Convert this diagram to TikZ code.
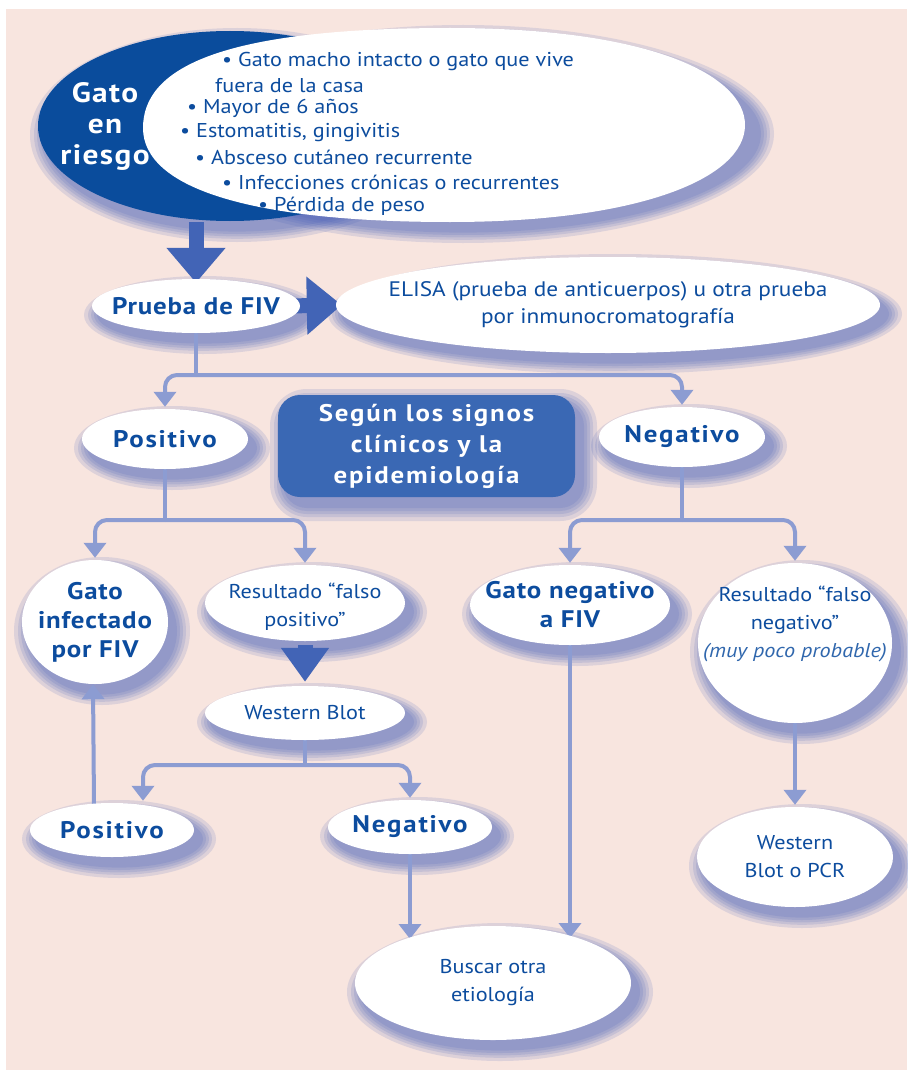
\documentclass[tikz,border=0pt]{standalone}
\usepackage{fontspec}
\setmainfont{PT Sans}
\newfontfamily\rfont{PT Sans}[FakeStretch=1.11]
\newfontfamily\bfont{PT Sans}[FakeStretch=1.12,LetterSpace=3.5]
\newfontfamily\bwfont{PT Sans}[FakeStretch=1.12,LetterSpace=7.5]
\newfontfamily\btfont{PT Sans}[FakeStretch=1.12,LetterSpace=5]
\usetikzlibrary{shapes.geometric,arrows.meta,calc}
\definecolor{pinkbg}{RGB}{248,229,223}
\definecolor{tblue}{RGB}{12,76,158}
\definecolor{darkc}{RGB}{10,76,156}
\definecolor{boxc}{RGB}{58,104,180}
\definecolor{connc}{RGB}{140,156,210}
\definecolor{thickc}{RGB}{66,100,182}
\definecolor{shadc}{RGB}{70,95,185}
\pgfdeclarelayer{bg}\pgfdeclarelayer{shad}\pgfdeclarelayer{lines}
\pgfsetlayers{bg,shad,lines,main}
\tikzset{
  every node/.style={inner sep=0pt},
  txt/.style={text=tblue, font=\rfont\fontsize{20}{28}\selectfont, align=center},
  btxt/.style={text=tblue, font=\bfont\bfseries\fontsize{24}{29}\selectfont, align=center},
  bwtxt/.style={text=tblue, font=\bwfont\bfseries\fontsize{24}{29}\selectfont, align=center},
  bullet/.style={text=tblue, font=\rfont\fontsize{20}{24}\selectfont, anchor=west},
  conn/.style={draw=connc, line width=4pt, rounded corners=12pt},
  arr/.style={-{Triangle[width=22pt,length=15pt]}},
  bigarr/.style={draw=thickc, line width=15pt, -{Triangle[#1]}},
  oval/.style={ellipse, fill=white},
}
% shadow under an ellipse: {cx}{cy}{rx}{ry}
\newcommand\ovalshadow[4]{%
  \begin{pgfonlayer}{shad}
    \foreach \k in {15,11,8,5,2}{%
      \fill[shadc, opacity=0.15] (#1+7,#2+9) ellipse [x radius={(#3+\k)*1pt}, y radius={(#4+\k*0.8)*1pt}];}
  \end{pgfonlayer}}
% [text options]{name}{cx}{cy}{rx}{ry}{text}
\newcommand\ovalnode[7][]{%
  \ovalshadow{#3}{#4}{#5}{#6}%
  \node[oval, minimum width={2pt*#5}, minimum height={2pt*#6}] (#2) at (#3,#4) {};
  \node[#1] (#2t) at (#3,#4) {#7};}
\begin{document}
\begin{tikzpicture}[x=1pt,y=-1pt]
\useasboundingbox (0,0) rectangle (907,1070);
\begin{pgfonlayer}{bg}
  \fill[white] (0,0) rectangle (907,1070);
  \fill[pinkbg] (6,9) rectangle (907,1070);
\end{pgfonlayer}

% top: risk crescent + bullets
\ovalshadow{230}{126}{192}{95}
\node[ellipse, fill=darkc, minimum width=384pt, minimum height=190pt] (riskbg) at (230,126) {};
\ovalshadow{456}{125}{296}{97}
\fill[white] (143,128) .. controls (143,70) and (215,28) .. (450,28)
  .. controls (650,28) and (745,75) .. (745,125)
  .. controls (745,178) and (640,222) .. (450,222)
  .. controls (250,222) and (143,188) .. (143,128) -- cycle;
\node[ellipse, minimum width=600pt, minimum height=194pt] (topW) at (445,125) {};
\node[text=white, font=\btfont\bfseries\fontsize{28}{31}\selectfont, align=center] (risk) at (105,126) {Gato\\en\\riesgo};
\node[bullet] (b1) at (222,62) {• Gato macho intacto o gato que vive};
\node[bullet] (b2) at (215,86) {fuera de la casa};
\node[bullet] (b3) at (187,108) {• Mayor de 6 años};
\node[bullet] (b4) at (180,133) {• Estomatitis, gingivitis};
\node[bullet] (b5) at (195,157) {• Absceso cutáneo recurrente};
\node[bullet] (b6) at (222,182) {• Infecciones crónicas o recurrentes};
\node[bullet] (b7) at (258,206) {• Pérdida de peso};

% test
\ovalnode[btxt]{prueba}{196}{306}{104}{27}{Prueba de FIV}
\ovalnode[txt,font=\rfont\fontsize{21}{27}\selectfont]{elisa}{608}{305}{272}{48}{ELISA (prueba de anticuerpos) u otra prueba\\por inmunocromatografía}

% first results
\ovalnode[bwtxt]{pos1}{165}{439}{83}{30}{Positivo}
\ovalnode[bwtxt]{neg1}{682}{437}{83}{30}{Negativo}
\begin{pgfonlayer}{shad}
  \foreach \k in {15,11,8,5,2}{%
    \fill[shadc, opacity=0.15, rounded corners={(22+\k)*1pt}] (278+7-\k,395+9-\k) rectangle (575+7+\k,497+9+\k);}
\end{pgfonlayer}
\node[rectangle, rounded corners=22pt, fill=boxc, minimum width=297pt, minimum height=102pt,
      text=white, font=\bwfont\bfseries\fontsize{24}{31}\selectfont, align=center] (box) at (426.5,446) {Según los signos\\clínicos y la\\epidemiología};

% second level
\ovalnode[btxt]{infect}{95}{622}{73}{62}{Gato\\infectado\\por FIV}
\ovalnode[txt,yshift=-4pt]{fpos}{305}{603}{100}{38}{Resultado “falso\\positivo”}
\ovalnode[btxt]{gneg}{570}{605}{100}{40}{Gato negativo\\a FIV}
\ovalnode[txt,yshift=19pt]{fneg}{795}{643}{97}{80}{Resultado “falso\\negativo”\\{\itshape\color{tblue!85}(muy poco probable)}}
\ovalnode[txt]{wb}{305}{713}{100}{27}{Western Blot}

% third level
\ovalnode[bwtxt]{pos2}{112}{830}{82}{27}{Positivo}
\ovalnode[bwtxt]{neg2}{410}{827}{82}{27}{Negativo}
\ovalnode[txt]{wbpcr}{795}{857}{98}{50}{Western\\Blot o PCR}
\ovalnode[txt]{buscar}{493}{983}{138}{57}{Buscar otra\\etiología}

% connectors
\begin{pgfonlayer}{lines}
  \draw[bigarr={width=57pt,length=35pt}] (prueba.north |- topW.south) -- ([yshift=-4pt]prueba.north);
  \draw[bigarr={width=56pt,length=35pt}] ([xshift=-12pt]prueba.east) -- ([xshift=6pt]elisa.west);
  \draw[bigarr={width=46pt,length=34pt}] ([yshift=-4pt]fpos.south) -- ([yshift=4pt]wb.north);

  \coordinate (j1) at (196,375);
  \draw[conn] (prueba.south) -- (j1);
  \draw[conn,arr] (j1) -| ([yshift=2pt]pos1.north);
  \draw[conn,arr] (j1) -| ([yshift=2pt]neg1.north);

  \coordinate (j2) at (165,520);
  \draw[conn] (pos1.south) -- (j2);
  \draw[conn,arr] (j2) -| ([yshift=2pt]infect.north);
  \draw[conn,arr] (j2) -| ([yshift=2pt]fpos.north);

  \coordinate (j3) at (682,520);
  \draw[conn] (neg1.south) -- (j3);
  \draw[conn,arr] (j3) -| ([yshift=2pt]gneg.north);
  \draw[conn,arr] (j3) -| ([yshift=2pt]fneg.north);

  \coordinate (j4) at (305,765);
  \draw[conn] (wb.south) -- (j4);
  \draw[conn,arr] (j4) -| ([xshift=31pt,yshift=2pt]pos2.north);
  \draw[conn,arr] (j4) -| ([yshift=2pt]neg2.north);

  \draw[conn,arr] ([xshift=-18pt,yshift=-2pt]pos2.north) -- ([xshift=-2pt]infect.south);
  \draw[conn,arr,shorten >=44pt] (neg2.south) -- (neg2.south |- buscar.center);
  \draw[conn,arr,shorten >=45pt] (gneg.south) -- (gneg.south |- buscar.center);
  \draw[conn,arr] (fneg.south) -- ([yshift=2pt]wbpcr.north);
\end{pgfonlayer}
\end{tikzpicture}
\end{document}
